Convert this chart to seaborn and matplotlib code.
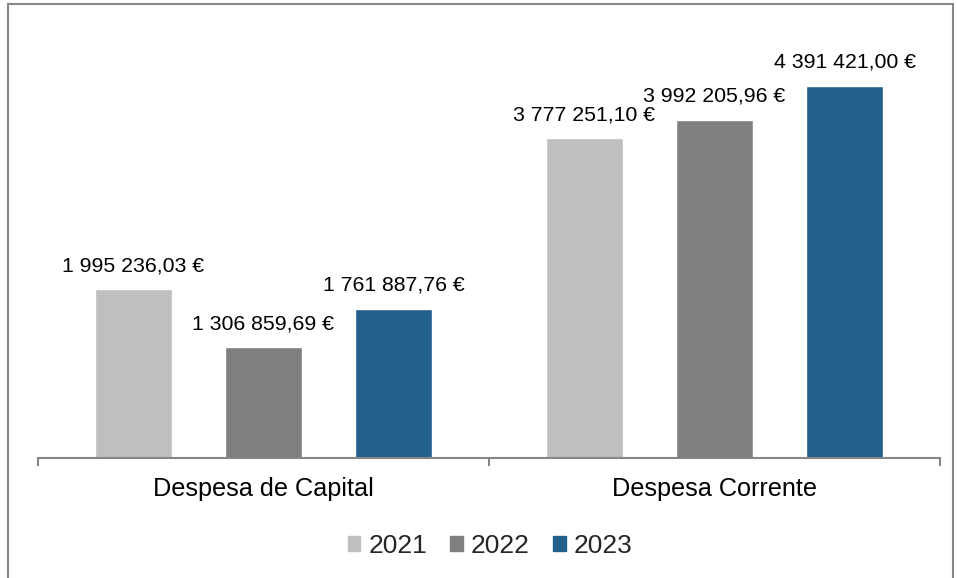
import matplotlib
matplotlib.use("Agg")
import matplotlib.pyplot as plt
import seaborn as sns
import pandas as pd
from matplotlib.patches import Rectangle

# data
categorias = ["Despesa de Capital", "Despesa Corrente"]
anos = ["2021", "2022", "2023"]
valores_2021 = [1995236.03, 3777251.10]
valores_2022 = [1306859.69, 3992205.96]
valores_2023 = [1761887.76, 4391421.00]
cores = ["#BFBFBF", "#7F7F7F", "#24608C"]


def fmt_euro(v):
    '''Portuguese style: space thousands, comma decimals'''
    return f"{v:,.2f}".replace(",", " ").replace(".", ",") + " €"


df = pd.DataFrame({
    "categoria": categorias * 3,
    "ano": [anos[0]] * 2 + [anos[1]] * 2 + [anos[2]] * 2,
    "valor": valores_2021 + valores_2022 + valores_2023,
})

sns.set_style("white")
plt.rcParams["font.family"] = ["Liberation Sans", "DejaVu Sans"]

fig = plt.figure(figsize=(9.57, 5.78), dpi=100)
ax = fig.add_axes([0.0397, 0.2076, 0.9425, 0.7595])

sns.barplot(data=df, x="categoria", y="valor", hue="ano", hue_order=anos,
            order=categorias, palette=cores, width=0.865, gap=0.41,
            saturation=1, legend=False, ax=ax)

for cont, ano in zip(ax.containers, anos):
    vals = df[df["ano"] == ano]["valor"].tolist()
    ax.bar_label(cont, labels=[fmt_euro(v) for v in vals], padding=10,
                 fontsize=15.3, color="#000000")

ax.set_xlim(-0.5, 1.5)
ax.set_ylim(0, 5.18e6)
ax.set_xlabel("")
ax.set_ylabel("")
ax.set_yticks([])
for s in ["top", "right", "left"]:
    ax.spines[s].set_visible(False)
ax.spines["bottom"].set_color("#868686")
ax.spines["bottom"].set_linewidth(1.5)

ax.set_xticks([-0.5, 0.5, 1.5], minor=True)
ax.tick_params(axis="x", which="minor", length=5.5, width=1.5, color="#868686",
               direction="out", bottom=True)
ax.tick_params(axis="x", which="major", length=0, pad=14, labelsize=18.2,
               labelcolor="#000000")

handles = [Rectangle((0, 0), 1, 1, color=c) for c in cores]
fig.legend(handles, anos, loc="center", bbox_to_anchor=(0.512, 0.055), ncol=3,
           frameon=False, fontsize=19, handlelength=0.49, handleheight=0.49,
           handletextpad=0.3, columnspacing=0.87)

# outer chart border
fig.patches.append(Rectangle((8 / 957, -0.02), 945 / 957, 1.02 - 4 / 578,
                             transform=fig.transFigure, fill=False,
                             edgecolor="#878787", linewidth=1.5))

fig.savefig("out.png", dpi=100)
